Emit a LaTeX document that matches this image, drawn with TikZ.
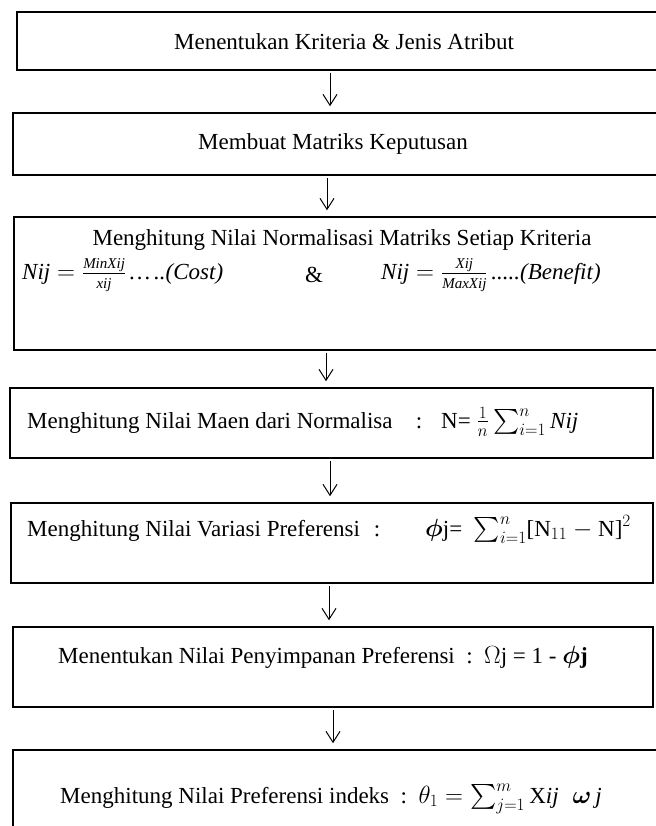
\documentclass[tikz,border=0pt]{standalone}
\usepackage{amsmath}
\usepackage{fontspec}
\setmainfont{Liberation Serif}
\usetikzlibrary{arrows.meta}
\newcommand{\fracpart}[1]{\hbox{\fontsize{15}{15}\selectfont\itshape #1}}
\begin{document}
\begin{tikzpicture}[x=1pt,y=-1pt,
  box/.style={draw=black,line width=1.5pt,fill=white,inner sep=0pt},
  lbl/.style={inner sep=0pt,font=\fontsize{23}{27}\selectfont},
  arr/.style={line width=1pt,-{Straight Barb[length=11pt,width=14pt]},shorten <=2pt,shorten >=6pt}]
\useasboundingbox (0,0) rectangle (655,826);
% boxes
\node[box,minimum width=645pt,minimum height=58pt] (b1) at (339.5,41) {};
\node[box,minimum width=649pt,minimum height=62pt] (b2) at (337.5,144) {};
\node[box,minimum width=648pt,minimum height=133pt] (b3) at (338,283.5) {};
\node[box,minimum width=643pt,minimum height=70pt] (b4) at (331.5,423) {};
\node[box,minimum width=642pt,minimum height=80pt] (b5) at (332,543) {};
\node[box,minimum width=640pt,minimum height=80pt] (b6) at (333,667) {};
\node[box,minimum width=649pt,minimum height=95pt] (b7) at (337.5,797.5) {};
% texts
\node[lbl] (t1) at (344,42) {Menentukan Kriteria \& Jenis Atribut};
\node[lbl] (t2) at (333,144) {Membuat Matriks Keputusan};
\node[lbl] (t3a) at (342,240) {Menghitung Nilai Normalisasi Matriks Setiap Kriteria};
\node[lbl,anchor=west] (t3b) at (22,275) {$\textit{Nij} = \frac{\fracpart{MinXij}}{\fracpart{xij}}$\,\textit{\dots\,..(Cost)}};
\node[lbl] (t3c) at (314,275) {\&};
\node[lbl,anchor=west] (t3d) at (381,275) {$\textit{Nij} = \frac{\fracpart{Xij}}{\fracpart{MaxXij}}$\,\textit{.....(Benefit)}};
\node[lbl,anchor=base west] (t4) at (27,428) {Menghitung Nilai Maen dari Normalisa};
\node[lbl,anchor=base] (t4c) at (419,428) {:};
\node[lbl,anchor=base west] (t4f) at (441,428) {N= $\frac{1}{n}\sum_{i=1}^{n}\textit{Nij}$};
\node[lbl,anchor=base west] (t5) at (27,536) {Menghitung Nilai Variasi Preferensi};
\node[lbl,anchor=base] (t5c) at (377,536) {:};
\node[lbl,anchor=base west] (t5f) at (425,536) {$\boldsymbol{\phi}$j=\enspace$\sum_{i=1}^{n}$[N$_{11}$ $-$ N]$^{2}$};
\node[lbl,anchor=base west] (t6) at (58,663) {Menentukan Nilai Penyimpanan Preferensi \ :\ \ $\Omega$j = 1 - $\boldsymbol{\phi}$\textbf{j}};
\node[lbl,anchor=base west] (t7) at (60,803) {Menghitung Nilai Preferensi indeks \ :\ \ $\theta_{1} = \sum_{j=1}^{m}\mathrm{X}\textit{ij}\;\;\boldsymbol{\omega}\,\textit{j}$};
% arrow columns
\coordinate (x1) at (330,0);
\coordinate (x2) at (327,0);
\coordinate (x3) at (326,0);
\coordinate (x4) at (330,0);
\coordinate (x5) at (329,0);
\coordinate (x6) at (333,0);
\draw[arr] (b1.south -| x1) -- (b2.north -| x1);
\draw[arr] (b2.south -| x2) -- (b3.north -| x2);
\draw[arr] (b3.south -| x3) -- (b4.north -| x3);
\draw[arr] (b4.south -| x4) -- (b5.north -| x4);
\draw[arr] (b5.south -| x5) -- (b6.north -| x5);
\draw[arr] (b6.south -| x6) -- (b7.north -| x6);
\end{tikzpicture}
\end{document}
